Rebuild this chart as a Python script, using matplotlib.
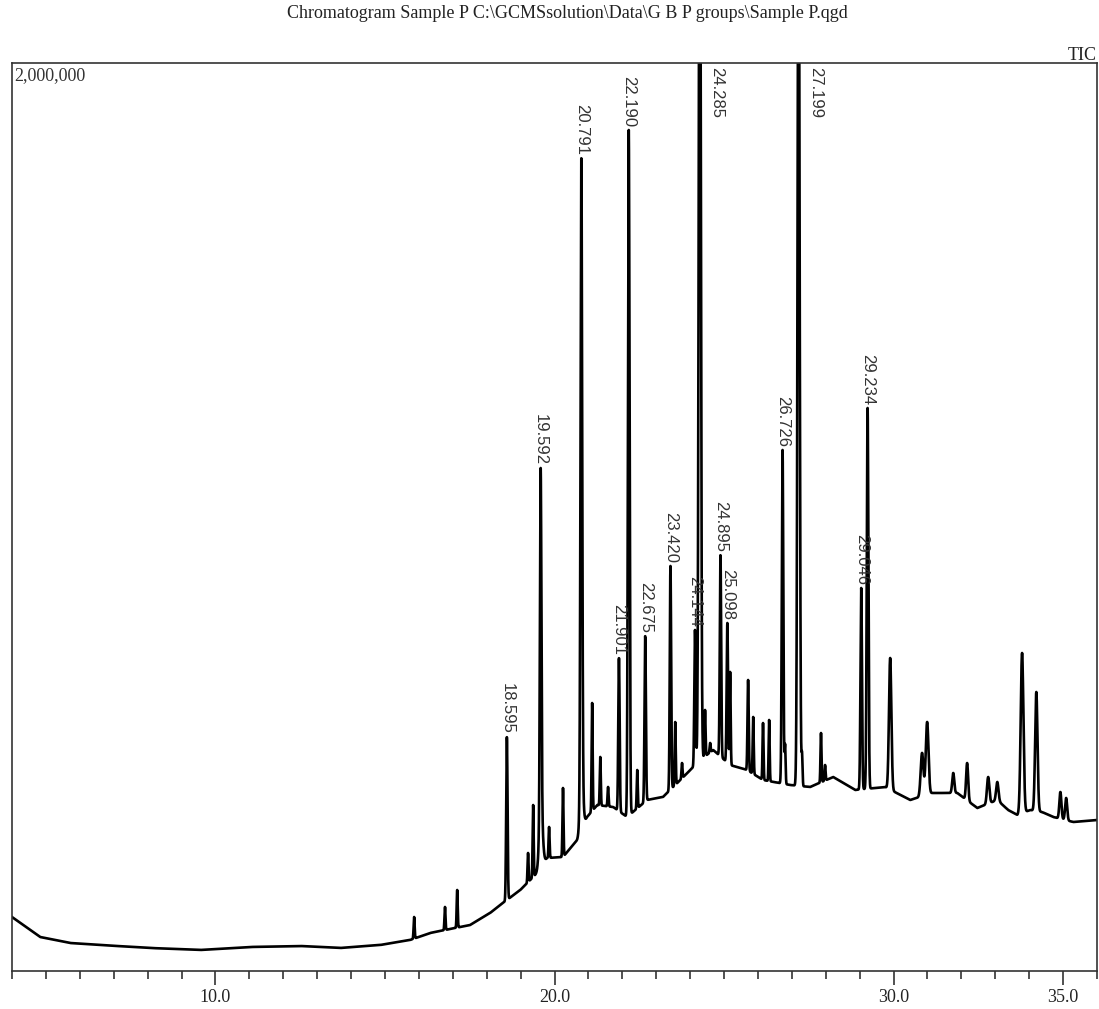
import numpy as np
import matplotlib
matplotlib.use("Agg")
import matplotlib.pyplot as plt
from matplotlib.ticker import MultipleLocator

# baseline of the TIC trace (retention time in min, intensity in counts)
base_t = [4.00, 4.83, 5.71, 6.60, 8.07, 9.55, 11.02, 12.50, 13.68, 14.86,
          15.74, 16.33, 17.51, 18.10, 18.40, 18.99, 19.49, 19.78, 20.25, 20.67,
          20.96, 21.26, 21.73, 22.14, 22.73, 23.20, 23.71, 24.30, 24.68, 25.18,
          25.68, 26.15, 26.95, 27.54, 28.22, 28.87, 29.75, 30.49, 31.14, 31.88,
          32.47, 33.06, 33.38, 33.65, 34.03, 34.38, 34.71, 35.30, 36.01]
base_i = [118900, 74900, 61700, 57300, 50700, 46300, 52900, 55100, 50700, 57300,
          68300, 83700, 101300, 127800, 145400, 178400, 215900, 248900, 251100, 288500,
          339200, 365600, 361200, 339200, 376700, 383300, 420700, 464800, 486800, 453700,
          442700, 420700, 409700, 405300, 427300, 398700, 405300, 376600, 392100, 392100,
          359000, 376600, 354600, 343600, 354600, 350200, 339200, 328200, 332600]

# broad humps under the big peaks (height above baseline)
hump_rt = [19.60, 20.80]
hump_height = [130000, 110000]
hump_sigma = [0.05, 0.045]

# labelled peaks: retention time, apex intensity, width (sigma, min)
peak_rt = [18.595, 19.592, 20.791, 21.901, 22.190, 22.675, 23.420, 24.144,
           24.285, 24.895, 25.098, 26.726, 27.199, 29.046, 29.234]
peak_apex = [515400, 1107900, 1790700, 689400, 1852400, 737900, 892100, 751100,
             2700000, 916300, 766500, 1147600, 2500000, 843600, 1240100]
peak_sigma = [0.020, 0.022, 0.024, 0.020, 0.024, 0.020, 0.020, 0.020,
              0.030, 0.020, 0.020, 0.022, 0.030, 0.022, 0.024]

# unlabelled minor peaks
minor_rt = [15.86, 16.77, 17.13, 19.22, 19.37, 19.84, 20.25, 21.11,
            21.35, 21.58, 22.44, 23.56, 23.76, 24.44, 24.59, 25.18, 25.71, 25.86,
            26.15, 26.33, 26.80, 27.30, 27.86, 27.98, 29.90, 30.84, 30.99, 31.76,
            32.17, 32.79, 33.06, 33.79, 34.21, 34.92, 35.09]
minor_apex = [118900, 141000, 178400, 259900, 365600, 317200, 403100, 590300,
              471400, 405300, 442700, 548400, 458100, 574900, 502200, 658600, 641000, 559500,
              546200, 552900, 497800, 475800, 524200, 453700, 689400, 480200, 548400, 436100,
              458100, 427300, 416300, 700400, 614500, 394300, 381100]
minor_sigma = [0.015, 0.015, 0.015, 0.015, 0.015, 0.015, 0.015, 0.015,
               0.015, 0.015, 0.015, 0.015, 0.015, 0.015, 0.015, 0.015, 0.018, 0.015,
               0.015, 0.015, 0.015, 0.015, 0.015, 0.015, 0.035, 0.040, 0.040, 0.030,
               0.030, 0.035, 0.035, 0.040, 0.035, 0.030, 0.030]

x_min, x_max = 4.0, 36.0
y_max = 2000000


def gauss(x, c, h, s):
    return h * np.exp(-(x - c) ** 2 / (2 * s ** 2))


def background(x):
    b = np.interp(x, base_t, base_i)
    for c, h, s in zip(hump_rt, hump_height, hump_sigma):
        b = b + gauss(x, c, h, s)
    return b


rt = np.array(peak_rt + minor_rt)
apex = np.array(peak_apex + minor_apex, dtype=float)
sig = np.array(peak_sigma + minor_sigma)
heights = np.clip(apex - background(rt), 0, None)

t = np.arange(x_min, x_max + 0.002, 0.002)
tic = background(t)
for c, h, s in zip(rt, heights, sig):
    tic = tic + gauss(t, c, h, s)

fig = plt.figure(figsize=(10.99, 10.09), dpi=100)
ax = fig.add_axes([12 / 1099, 38 / 1009, 1085 / 1099, 908 / 1009])
ax.plot(t, tic, color="black", lw=1.9)

ax.set_xlim(x_min, x_max)
ax.set_ylim(0, y_max)
ax.set_yticks([])
ax.set_xticks([10, 20, 30, 35])
ax.set_xticklabels(["10.0", "20.0", "30.0", "35.0"], family="Liberation Serif", fontsize=13, color="#222222")
ax.xaxis.set_minor_locator(MultipleLocator(1))
ax.tick_params(axis="x", which="major", length=10, width=1.1, pad=3, color="#222222")
ax.tick_params(axis="x", which="minor", length=5.5, width=1.1, color="#222222")
for sp in ax.spines.values():
    sp.set_linewidth(1.2)
    sp.set_color("#333333")

# retention time labels
for r, a in zip(peak_rt, peak_apex):
    lab = f"{r:.3f}"
    if a > y_max:
        ax.annotate(lab, xy=(r, y_max), xytext=(12, -3), textcoords="offset points",
                    ha="center", va="top", rotation=270, fontsize=12,
                    family="Liberation Sans", color="#333333")
    else:
        ax.annotate(lab, xy=(r, a), xytext=(0, 2), textcoords="offset points",
                    ha="center", va="bottom", rotation=270, fontsize=12,
                    family="Liberation Sans", color="#333333")

ax.text(0.002, 0.996, "2,000,000", transform=ax.transAxes, ha="left", va="top",
        family="Liberation Serif", fontsize=13, color="#333333")
fig.text(0.998, 1 - 60 / 1009, "TIC", ha="right", va="baseline",
         family="Liberation Serif", fontsize=13, color="#222222")
fig.text(0.516, 1 - 13 / 1009, r"Chromatogram Sample P C:\GCMSsolution\Data\G B P groups\Sample P.qgd",
         ha="center", va="center", family="Liberation Serif", fontsize=13, color="#222222")

fig.savefig("out.png", dpi=100)
